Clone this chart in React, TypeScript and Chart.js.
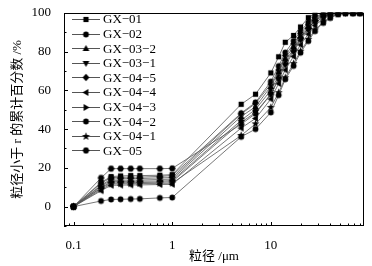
import React, { useEffect, useRef } from 'react';
import { Chart, registerables } from 'chart.js';
Chart.register(...registerables);

const sizes = [0.1, 0.19, 0.24, 0.3, 0.38, 0.47, 0.75, 1, 5, 7, 10, 12, 14, 17, 20, 24, 28, 34, 40, 48, 57, 68, 80];
const seriesNames = ['GX−01', 'GX−02', 'GX−03−2', 'GX−03−1', 'GX−04−5', 'GX−04−4', 'GX−04−3', 'GX−04−2', 'GX−04−1', 'GX−05'];
const gx01 = [0, 12.5, 15.5, 15.8, 16, 16, 16.2, 16.5, 52.8, 58, 69, 77.3, 84.8, 88.3, 92.7, 97.5, 99.6, 100, 100, 100, 100, 100, 100];
const gx02 = [0, 2.9, 3.7, 3.8, 3.9, 4, 4.5, 4.7, 36, 40, 48.6, 57.5, 65.7, 72.6, 79.4, 85.4, 90.5, 94.8, 97.3, 99.2, 100, 100, 100];
const gx032 = [0, 10.5, 13.5, 13.6, 13.7, 13.7, 14, 14.2, 46.5, 51.5, 62, 69.5, 76.5, 82.5, 88, 93, 96.8, 99, 99.8, 100, 100, 100, 100];
const gx031 = [0, 9.5, 12.2, 12.3, 12.4, 12.4, 12.6, 12.8, 43.5, 48.6, 58, 65.8, 73, 79.8, 86, 91, 95, 97.8, 99.3, 100, 100, 100, 100];
const gx045 = [0, 11, 14.2, 14.4, 14.5, 14.5, 14.8, 15, 47.8, 53.2, 63.2, 70.5, 78, 84, 89.3, 94, 97.5, 99.3, 100, 100, 100, 100, 100];
const gx044 = [0, 8.2, 11, 11.1, 11.2, 11.2, 11.4, 11.5, 40.5, 45.5, 55.5, 63.5, 70.5, 77.5, 83.5, 89, 93.5, 96.8, 98.8, 99.8, 100, 100, 100];
const gx043 = [0, 9.8, 12.8, 13, 13, 13.1, 13.2, 13.4, 44.5, 50.2, 60, 67.5, 75, 81.3, 87, 92.2, 96, 98.6, 99.8, 100, 100, 100, 100];
const gx042 = [0, 12, 15, 15.1, 15.2, 15.2, 15.6, 16, 48.2, 53.8, 64.5, 72.5, 79.5, 85.5, 90.5, 95, 98, 99.6, 100, 100, 100, 100, 100];
const gx041 = [0, 8.8, 11.6, 11.8, 11.8, 11.9, 12, 12.1, 36.7, 42.7, 51.2, 58.8, 66.5, 73.8, 80.2, 86.3, 91.2, 95.3, 97.8, 99.3, 100, 100, 100];
const gx05 = [0, 14.8, 19.6, 19.6, 19.6, 19.6, 19.6, 19.7, 42.5, 48, 58, 66, 74, 80.5, 86.5, 92, 95.8, 98.5, 99.6, 100, 100, 100, 100];
const seriesValues = [gx01, gx02, gx032, gx031, gx045, gx044, gx043, gx042, gx041, gx05];
const markerKinds = ['square', 'circle', 'up', 'down', 'diamond', 'left', 'right', 'circle', 'star', 'pentagon'];
const yTicks = [0, 20, 40, 60, 80, 100];
const xTicks = [0.1, 1, 10];

function makeMarker(kind: string): HTMLCanvasElement {
  const c = document.createElement('canvas');
  c.width = 11; c.height = 11;
  const g = c.getContext('2d')!;
  g.fillStyle = '#000';
  const cx = 5.5, cy = 5.5;
  g.beginPath();
  const poly = (pts: number[][]) => { g.moveTo(pts[0][0], pts[0][1]); for (let i = 1; i < pts.length; i++) g.lineTo(pts[i][0], pts[i][1]); g.closePath(); };
  if (kind === 'square') g.rect(cx - 2.6, cy - 2.6, 5.2, 5.2);
  else if (kind === 'circle') g.arc(cx, cy, 2.9, 0, Math.PI * 2);
  else if (kind === 'up') poly([[cx, cy - 3.6], [cx + 3.4, cy + 2.4], [cx - 3.4, cy + 2.4]]);
  else if (kind === 'down') poly([[cx, cy + 3.6], [cx + 3.4, cy - 2.4], [cx - 3.4, cy - 2.4]]);
  else if (kind === 'diamond') poly([[cx, cy - 3.7], [cx + 3.4, cy], [cx, cy + 3.7], [cx - 3.4, cy]]);
  else if (kind === 'left') poly([[cx - 3.6, cy], [cx + 2.4, cy - 3.4], [cx + 2.4, cy + 3.4]]);
  else if (kind === 'right') poly([[cx + 3.6, cy], [cx - 2.4, cy - 3.4], [cx - 2.4, cy + 3.4]]);
  else if (kind === 'star') {
    const pts: number[][] = [];
    for (let i = 0; i < 10; i++) {
      const r = i % 2 === 0 ? 4.2 : 1.7;
      const a = -Math.PI / 2 + (i * Math.PI) / 5;
      pts.push([cx + r * Math.cos(a), cy + r * Math.sin(a)]);
    }
    poly(pts);
  } else if (kind === 'pentagon') {
    const pts: number[][] = [];
    for (let i = 0; i < 6; i++) {
      const a = (i * Math.PI) / 3;
      pts.push([cx + 3.4 * Math.cos(a), cy + 3.4 * Math.sin(a)]);
    }
    poly(pts);
  }
  g.fill();
  return c;
}

export default function App() {
  const ref = useRef<HTMLCanvasElement>(null);
  useEffect(() => {
    document.body.style.margin = '0';
    const markers = markerKinds.map(makeMarker);
    const serif = "'Liberation Serif', 'Times New Roman', serif";

    const customDraw = {
      id: 'customDraw',
      afterDraw(chart: any) {
        const ctx = chart.ctx;
        const { left, right, top, bottom } = chart.chartArea;
        const xs = chart.scales.x, ys = chart.scales.y;
        ctx.save();
        ctx.strokeStyle = '#000';
        ctx.lineWidth = 1;
        ctx.strokeRect(Math.round(left) + 0.5, Math.round(top) + 0.5, Math.round(right - left) - 1, Math.round(bottom - top) - 1);
        ctx.beginPath();
        for (let v = -10; v <= 100; v += 10) {
          const y = Math.round(ys.getPixelForValue(v)) + 0.5;
          const len = v % 20 === 0 ? 4 : 2.5;
          ctx.moveTo(left, y); ctx.lineTo(left + len, y);
        }
        for (let d = 0.01; d <= 100; d *= 10) {
          for (let k = 1; k <= 9; k++) {
            const v = d * k;
            if (v < xs.min || v > xs.max) continue;
            const x = Math.round(xs.getPixelForValue(v)) + 0.5;
            const len = k === 1 ? 4 : 2.5;
            ctx.moveTo(x, bottom); ctx.lineTo(x, bottom - len);
          }
        }
        ctx.stroke();
        // legend
        ctx.font = `13px ${serif}`;
        ctx.textBaseline = 'middle';
        ctx.fillStyle = '#000';
        seriesNames.forEach((name, i) => {
          const y = 19 + i * 14.6;
          ctx.beginPath();
          ctx.strokeStyle = '#555';
          ctx.lineWidth = 1;
          ctx.moveTo(72, Math.round(y) + 0.5); ctx.lineTo(100, Math.round(y) + 0.5);
          ctx.stroke();
          const m = markers[i];
          ctx.drawImage(m, 86 - m.width / 2, Math.round(y) + 0.5 - m.height / 2);
          ctx.fillText(name, 103, y + 1);
        });
        ctx.restore();
      },
    };

    const chart = new Chart(ref.current!, {
      type: 'line',
      data: {
        datasets: seriesValues.map((vals, i) => ({
          label: seriesNames[i],
          data: vals.map((v, j) => ({ x: sizes[j], y: v })),
          borderColor: '#555',
          borderWidth: 0.8,
          pointStyle: markers[i] as any,
          pointRadius: 4,
          pointBackgroundColor: '#000',
          pointBorderColor: '#000',
          tension: 0,
        })),
      },
      options: {
        animation: false,
        responsive: false,
        layout: { padding: { left: 0, right: 8, top: 10, bottom: 0 } },
        plugins: { legend: { display: false }, tooltip: { enabled: false } },
        scales: {
          x: {
            type: 'logarithmic',
            min: 0.08,
            max: 88,
            grid: { display: false },
            border: { display: false },
            afterBuildTicks: (s: any) => { s.ticks = xTicks.map((v) => ({ value: v, major: true })); },
            afterFit: (s: any) => { s.height = 40; },
            ticks: { color: '#000', font: { family: serif, size: 13 }, padding: 4, maxRotation: 0, autoSkip: false, callback: (v: any) => String(v) },
            title: { display: true, text: '粒径 /μm', color: '#000', font: { family: "'Liberation Serif', 'Noto Sans CJK SC', serif", size: 13 }, padding: { top: 0, bottom: 1.5 } },
          },
          y: {
            type: 'linear',
            min: -10,
            max: 100,
            grid: { display: false },
            border: { display: false },
            afterBuildTicks: (s: any) => { s.ticks = yTicks.map((v) => ({ value: v })); },
            afterFit: (s: any) => { s.width = 64; },
            ticks: { color: '#000', font: { family: serif, size: 13 }, padding: 5, autoSkip: false, callback: (v: any) => String(v) },
            title: { display: true, text: '粒径小于 r 的累计百分数 /%', color: '#000', font: { family: "'Liberation Serif', 'Noto Sans CJK SC', serif", size: 13 }, padding: { top: 10, bottom: 0 } },
          },
        },
      },
      plugins: [customDraw],
    });
    return () => chart.destroy();
  }, []);
  return (
    <div style={{ width: 372, height: 266 }}>
      <canvas ref={ref} width={372} height={266} style={{ display: 'block' }} />
    </div>
  );
}
